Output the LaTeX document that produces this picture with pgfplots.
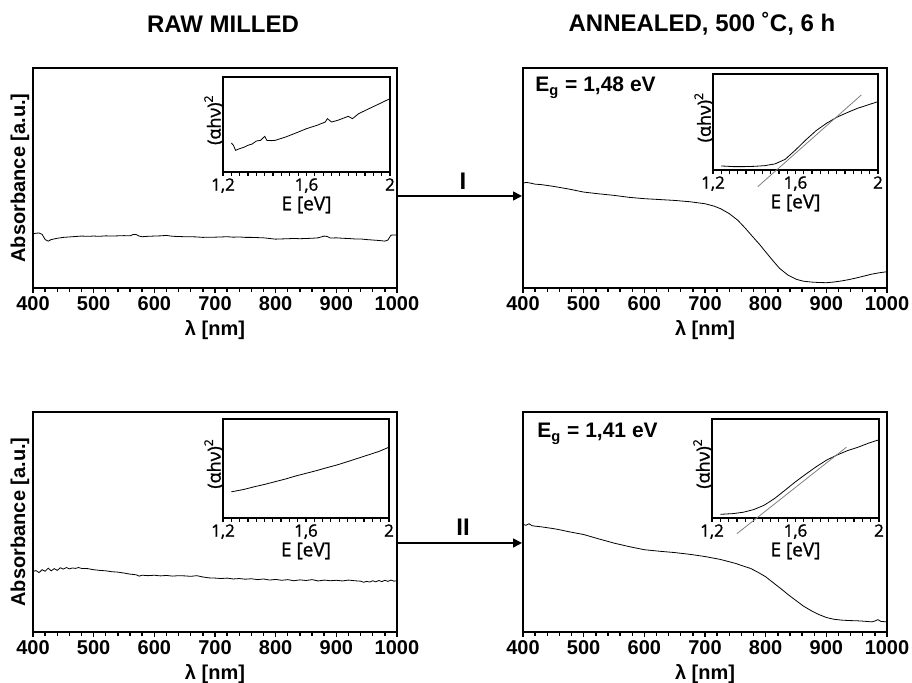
\documentclass[border=0pt]{standalone}
\usepackage{pgfplots}
\pgfplotsset{compat=1.18}
\usepackage{fontspec}
\setmainfont{Liberation Sans}
\newfontfamily\insetfont[FakeBold=1.2]{Open Sans}
\usetikzlibrary{arrows.meta}
\pgfplotsset{
  mainax/.style={
    scale only axis, width=182pt, height=110pt, anchor=south west,
    xmin=400, xmax=1000, ymin=0, ymax=100,
    xtick={400,500,...,1000}, minor x tick num=4, ytick=\empty,
    tick align=outside, xtick pos=bottom,
    major tick length=2.5pt, minor tick length=2pt,
    axis line style={line width=1pt},
    every tick/.style={black, line width=0.7pt},
    /pgf/number format/assume math mode=true,
    /pgf/number format/1000 sep={},
    xticklabel style={font=\bfseries\fontsize{10}{11}\selectfont, inner sep=1.5pt},
    xlabel={λ [nm]},
    xlabel style={font=\bfseries\fontsize{10}{11}\selectfont, at={(axis description cs:0.5,0)}, anchor=center, yshift=-21pt},
    cycle list={{black, line width=0.5pt, no marks}},
  },
  inax/.style={
    scale only axis, anchor=south west,
    xmin=1.2, xmax=2, ymin=0, ymax=100,
    xtick={1.2,1.6,2}, xticklabels={{1,2},{1,6},{2}}, minor x tick num=9,
    ytick=\empty, tick align=outside, xtick pos=bottom,
    major tick length=2pt, minor tick length=1.8pt,
    axis line style={line width=0.8pt}, clip=false,
    every tick/.style={black, line width=0.6pt},
    xticklabel style={font=\insetfont\fontsize{8.5}{9}\selectfont, inner sep=1pt},
    xlabel={E [eV]},
    xlabel style={font=\insetfont\fontsize{9.5}{10}\selectfont, at={(axis description cs:0.5,0)}, anchor=center, yshift=-16.5pt},
    ylabel={(αhν)\textsuperscript{2}},
    ylabel style={font=\insetfont\fontsize{9}{9}\selectfont, at={(axis description cs:-0.055,0.55)}, anchor=center},
    cycle list={{black, line width=0.5pt, no marks}},
  },
}
\begin{document}
\begin{tikzpicture}
\path[use as bounding box] (0,0) rectangle (456pt,341.5pt);

% ---------- top-left main ----------
\begin{axis}[mainax, at={(16.5pt,197.5pt)}, ylabel={Absorbance [a.u.]},
  ylabel style={font=\bfseries\fontsize{10}{11}\selectfont, at={(axis description cs:-0.036,0.5)}, anchor=center}]
\addplot coordinates {(400,24.6)(405,24.9)(410,25.0)(415,24.4)(420,22.0)(425,21.3)(430,22.0)(440,22.6)(450,23.0)(460,23.2)(470,23.4)(480,23.6)(490,23.5)(500,23.6)(510,23.5)(520,23.7)(530,23.6)(540,23.7)(550,23.8)(560,23.7)(565,24.3)(570,24.3)(575,23.6)(580,23.3)(590,23.5)(600,23.6)(610,23.7)(620,23.9)(630,23.5)(640,23.4)(650,23.3)(660,23.3)(670,23.2)(680,23.0)(690,23.1)(700,23.1)(710,23.2)(720,23.3)(730,23.1)(740,23.2)(750,23.0)(760,23.0)(770,22.9)(780,22.8)(790,22.5)(800,22.2)(810,22.3)(820,22.4)(830,22.5)(840,22.4)(850,22.5)(860,22.6)(870,22.8)(880,23.6)(885,23.4)(890,22.7)(900,22.8)(910,22.6)(920,22.5)(930,22.3)(940,22.3)(950,22.0)(960,21.8)(970,21.6)(980,21.3)(985,21.8)(990,24.0)(995,24.1)(1000,24.0)};
\end{axis}
\begin{axis}[inax, at={(111.5pt,255.5pt)}, width=83.5pt, height=47.5pt]
\addplot coordinates {(1.24,30.5)(1.25,28.1)(1.26,22.8)(1.28,24.6)(1.30,26.0)(1.32,28.1)(1.34,29.5)(1.36,32.6)(1.38,33.3)(1.40,37.5)(1.41,33.3)(1.43,33.0)(1.45,33.3)(1.50,36.8)(1.55,41.1)(1.60,45.6)(1.65,49.1)(1.69,52.6)(1.70,56.1)(1.72,52.6)(1.75,54.4)(1.80,58.6)(1.82,56.1)(1.85,61.4)(1.90,66.7)(1.95,71.9)(2.00,77.2)};
\end{axis}

% ---------- top-right main ----------
\begin{axis}[mainax, at={(261.5pt,197.5pt)}]
\addplot coordinates {(400,47.6)(405,48.0)(410,47.8)(420,47.2)(430,47.0)(440,46.6)(450,46.2)(475,45.0)(500,43.6)(525,42.8)(550,42.1)(575,41.2)(600,40.6)(625,40.2)(650,39.8)(675,39.2)(700,38.3)(715,37.2)(726,36.0)(740,33.8)(754,30.8)(766,27.3)(779,23.2)(790,19.8)(800,16.4)(812,12.4)(823,8.9)(837,5.8)(851,3.9)(862,3.1)(875,2.7)(887,2.5)(900,2.4)(912,2.7)(925,3.2)(937,3.8)(950,4.6)(962,5.4)(975,6.3)(987,6.9)(1000,7.4)};
\end{axis}
\begin{axis}[inax, at={(356.5pt,256.5pt)}, width=82.5pt, height=48pt]
\addplot coordinates {(1.24,4.2)(1.30,3.5)(1.35,3.5)(1.40,3.8)(1.45,4.5)(1.50,6.3)(1.55,11.1)(1.60,20.8)(1.65,31.3)(1.70,41.0)(1.75,48.6)(1.80,54.9)(1.85,59.7)(1.90,64.2)(1.95,67.7)(2.00,71.2)};
\addplot[gray, line width=0.4pt] coordinates {(1.417,-17.4)(1.919,78.1)};
\end{axis}

% ---------- bottom-left main ----------
\begin{axis}[mainax, at={(16.5pt,25.5pt)}, ylabel={Absorbance [a.u.]},
  ylabel style={font=\bfseries\fontsize{10}{11}\selectfont, at={(axis description cs:-0.036,0.5)}, anchor=center}]
\addplot coordinates {(400,27.5)(405,27.9)(410,27.0)(415,28.3)(420,27.6)(425,29.0)(430,27.8)(435,28.8)(440,28.0)(445,29.2)(450,28.6)(455,29.3)(460,28.7)(465,29.1)(470,28.9)(475,29.3)(480,28.9)(490,28.8)(500,28.3)(510,28.0)(520,27.8)(530,27.4)(540,27.2)(550,26.8)(560,26.3)(570,26.0)(575,25.4)(580,25.8)(590,25.6)(600,25.8)(610,25.5)(620,25.7)(630,25.4)(640,25.6)(650,25.5)(660,25.3)(670,25.6)(680,25.0)(690,24.6)(700,24.5)(710,24.3)(720,24.5)(730,24.1)(740,24.3)(750,24.0)(760,24.2)(770,23.8)(780,24.1)(790,23.6)(800,23.9)(810,23.5)(820,23.8)(830,23.3)(840,23.7)(850,23.4)(860,23.8)(870,23.2)(880,23.6)(890,23.3)(900,23.5)(910,23.2)(920,23.6)(930,23.3)(940,23.1)(945,22.6)(950,23.0)(955,22.7)(960,23.3)(965,22.8)(970,23.4)(975,22.9)(980,23.5)(985,23.0)(990,23.6)(995,23.1)(1000,23.3)};
\end{axis}
\begin{axis}[inax, at={(111.5pt,82.5pt)}, width=83pt, height=49.5pt]
\addplot coordinates {(1.24,26.4)(1.30,28.8)(1.35,31.5)(1.40,33.9)(1.45,36.6)(1.50,39.3)(1.55,42.4)(1.60,45.1)(1.65,47.8)(1.70,50.8)(1.75,53.6)(1.80,56.9)(1.85,60.3)(1.90,63.7)(1.95,67.1)(2.00,71.5)};
\end{axis}

% ---------- bottom-right main ----------
\begin{axis}[mainax, at={(261.5pt,25.5pt)}]
\addplot coordinates {(400,48.9)(405,48.5)(410,49.2)(415,48.3)(420,48.1)(430,47.8)(440,47.4)(450,47.0)(460,46.5)(475,45.6)(500,44.3)(525,42.3)(550,40.4)(575,38.8)(600,37.4)(625,36.7)(650,36.1)(675,35.3)(700,34.3)(725,33.0)(750,31.2)(765,29.8)(775,28.9)(787,27.2)(800,25.1)(812,22.5)(825,19.7)(837,17.0)(850,14.3)(862,11.8)(875,9.7)(887,8.0)(900,6.6)(912,5.8)(925,5.4)(937,5.2)(950,5.1)(962,4.9)(975,4.6)(980,5.0)(985,5.6)(990,4.8)(1000,4.6)};
\end{axis}
\begin{axis}[inax, at={(356pt,82.5pt)}, width=83.5pt, height=49.5pt]
\addplot coordinates {(1.24,3.7)(1.30,4.4)(1.35,5.8)(1.40,8.5)(1.45,12.9)(1.50,19.7)(1.55,28.1)(1.60,36.6)(1.65,44.4)(1.70,51.9)(1.75,58.6)(1.80,63.7)(1.85,68.1)(1.90,71.5)(1.95,75.6)(2.00,79.0)};
\addplot[gray, line width=0.4pt] coordinates {(1.319,-15.9)(1.844,71.5)};
\end{axis}

% ---------- titles, labels, arrows ----------
\node[font=\bfseries\fontsize{12}{13}\selectfont] at (111.5pt,329.5pt) {RAW MILLED};
\node[font=\bfseries\fontsize{12}{13}\selectfont] at (351pt,329.5pt) {ANNEALED, 500 ˚C, 6 h};
\node[font=\bfseries\fontsize{10.5}{11}\selectfont, anchor=base west, inner sep=0pt] at (267.5pt,295.6pt) {E\textsubscript{g} = 1,48 eV};
\node[font=\bfseries\fontsize{10.5}{11}\selectfont, anchor=base west, inner sep=0pt] at (268.5pt,122.5pt) {E\textsubscript{g} = 1,41 eV};
\draw[line width=0.8pt, -{Triangle[length=4.5pt,width=4.5pt]}] (198pt,243.5pt) -- (261pt,243.5pt);
\draw[line width=0.8pt, -{Triangle[length=4.5pt,width=4.5pt]}] (198pt,70pt) -- (261pt,70pt);
\node[font=\bfseries\fontsize{12}{13}\selectfont] at (231.5pt,250.8pt) {I};
\node[font=\bfseries\fontsize{12}{13}\selectfont] at (231.5pt,78pt) {II};
\end{tikzpicture}
\end{document}
